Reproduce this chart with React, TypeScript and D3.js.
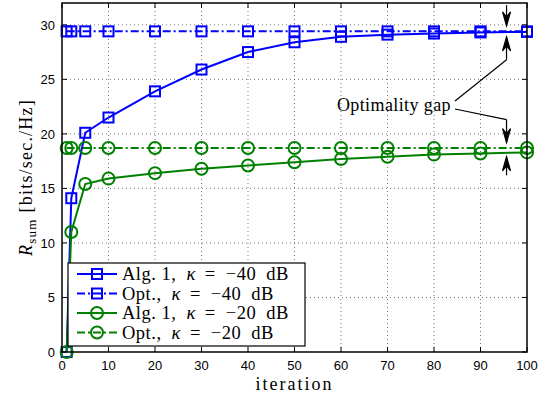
import { useRef, useEffect } from "react";
import * as d3 from "d3";

const W = 551;
const H = 398;
const margin = { top: 3, right: 24, bottom: 46, left: 62 };

const iterations = [1, 2, 5, 10, 20, 30, 40, 50, 60, 70, 80, 90, 100];
const alg40 = [0, 14.1, 20.1, 21.5, 23.9, 25.9, 27.5, 28.4, 28.9, 29.1, 29.2, 29.3, 29.35];
const opt40 = [29.4, 29.4, 29.4, 29.4, 29.4, 29.4, 29.4, 29.4, 29.4, 29.4, 29.4, 29.4, 29.4];
const alg20 = [0, 11.0, 15.4, 15.9, 16.4, 16.8, 17.1, 17.4, 17.7, 17.9, 18.1, 18.2, 18.3];
const opt20 = [18.7, 18.7, 18.7, 18.7, 18.7, 18.7, 18.7, 18.7, 18.7, 18.7, 18.7, 18.7, 18.7];
const xTicks = [0, 10, 20, 30, 40, 50, 60, 70, 80, 90, 100];
const yTicks = [0, 5, 10, 15, 20, 25, 30];

const series = [
  { name: "Alg. 1,", kappa: "−40", values: alg40, color: "#0000ff", marker: "square", dash: null },
  { name: "Opt.,", kappa: "−40", values: opt40, color: "#0000ff", marker: "square", dash: "8,3,2,3" },
  { name: "Alg. 1,", kappa: "−20", values: alg20, color: "#008000", marker: "circle", dash: null },
  { name: "Opt.,", kappa: "−20", values: opt20, color: "#008000", marker: "circle", dash: "8,3,2,3" },
];

const SERIF = "Liberation Serif";
const SANS = "Liberation Sans";

export default function App() {
  const svgRef = useRef<SVGSVGElement>(null);

  useEffect(() => {
    const svg = d3.select(svgRef.current);
    svg.selectAll("*").remove();

    const x = d3.scaleLinear().domain([0, 100]).range([margin.left, W - margin.right]);
    const y = d3.scaleLinear().domain([0, 32]).range([H - margin.bottom, margin.top]);
    const [x0, x1] = x.range();
    const [y0, y1] = y.range();

    svg.append("rect").attr("width", W).attr("height", H).attr("fill", "#fff");

    // grid
    const grid = svg.append("g").attr("stroke", "#555").attr("stroke-width", 0.8).attr("stroke-dasharray", "1,3");
    grid.selectAll(".gx").data(xTicks.slice(1, -1)).join("line")
      .attr("x1", (d) => x(d)).attr("x2", (d) => x(d)).attr("y1", y0).attr("y2", y1);
    grid.selectAll(".gy").data(yTicks.slice(1)).join("line")
      .attr("y1", (d) => y(d)).attr("y2", (d) => y(d)).attr("x1", x0).attr("x2", x1);

    // inward ticks on all sides
    const ticks = svg.append("g").attr("stroke", "#000").attr("stroke-width", 1);
    xTicks.forEach((t) => {
      ticks.append("line").attr("x1", x(t)).attr("x2", x(t)).attr("y1", y0).attr("y2", y0 - 5);
      ticks.append("line").attr("x1", x(t)).attr("x2", x(t)).attr("y1", y1).attr("y2", y1 + 5);
    });
    yTicks.forEach((t) => {
      ticks.append("line").attr("y1", y(t)).attr("y2", y(t)).attr("x1", x0).attr("x2", x0 + 5);
      ticks.append("line").attr("y1", y(t)).attr("y2", y(t)).attr("x1", x1).attr("x2", x1 - 5);
    });

    // tick labels
    svg.append("g").selectAll("text").data(xTicks).join("text")
      .attr("x", (d) => x(d)).attr("y", y0 + 18)
      .attr("text-anchor", "middle").attr("font-family", SANS).attr("font-size", 13)
      .text((d) => d);
    svg.append("g").selectAll("text").data(yTicks).join("text")
      .attr("x", x0 - 7).attr("y", (d) => y(d) + 5)
      .attr("text-anchor", "end").attr("font-family", SANS).attr("font-size", 13)
      .text((d) => d);

    // lines and markers
    const line = d3.line<number>().x((_, i) => x(iterations[i])).y((d) => y(d));
    const drawMarker = (g, color, marker, cx, cy) => {
      if (marker === "square") {
        g.append("rect").attr("x", cx - 5).attr("y", cy - 5).attr("width", 10).attr("height", 10)
          .attr("fill", "none").attr("stroke", color).attr("stroke-width", 2);
      } else {
        g.append("circle").attr("cx", cx).attr("cy", cy).attr("r", 6)
          .attr("fill", "none").attr("stroke", color).attr("stroke-width", 2);
      }
    };
    const plot = svg.append("g");
    series.forEach((s) => {
      plot.append("path").datum(s.values).attr("d", line)
        .attr("fill", "none").attr("stroke", s.color).attr("stroke-width", 2)
        .attr("stroke-dasharray", s.dash);
      s.values.forEach((v, i) => drawMarker(plot, s.color, s.marker, x(iterations[i]), y(v)));
    });

    // frame
    svg.append("rect").attr("x", x0).attr("y", y1).attr("width", x1 - x0).attr("height", y0 - y1)
      .attr("fill", "none").attr("stroke", "#000").attr("stroke-width", 1.5);

    // legend
    const lg = svg.append("g");
    lg.append("rect").attr("x", 68).attr("y", 263).attr("width", 237).attr("height", 83)
      .attr("fill", "#fff").attr("stroke", "#000").attr("stroke-width", 1.2);
    series.forEach((s, i) => {
      const ly = 274 + i * 19.5;
      lg.append("line").attr("x1", 77).attr("x2", 117).attr("y1", ly).attr("y2", ly)
        .attr("stroke", s.color).attr("stroke-width", 2).attr("stroke-dasharray", s.dash);
      drawMarker(lg, s.color, s.marker, 97, ly);
      const t = lg.append("text").attr("x", 122).attr("y", ly + 6)
        .attr("font-family", SERIF).attr("font-size", 18.5).attr("letter-spacing", 0.5);
      t.append("tspan").text(s.name);
      t.append("tspan").attr("dx", 10).attr("font-style", "italic").text("κ");
      t.append("tspan").attr("dx", 9).text("=");
      t.append("tspan").attr("dx", 10).text(s.kappa);
      t.append("tspan").attr("dx", 10).text("dB");
    });

    // annotation
    const ax = x(95.6);
    const ann = svg.append("g").attr("stroke", "#000").attr("stroke-width", 1.2);
    const arrow = (xx, yFrom, yTip) => {
      ann.append("line").attr("x1", xx).attr("x2", xx).attr("y1", yFrom).attr("y2", yTip);
      const dir = yTip > yFrom ? 1 : -1;
      ann.append("path")
        .attr("d", `M${xx},${yTip} L${xx - 4},${yTip - dir * 14} L${xx},${yTip - dir * 9} L${xx + 4},${yTip - dir * 14} Z`)
        .attr("fill", "#000");
    };
    arrow(ax, y(31.8), y(29.9));
    arrow(ax, y(26.8), y(28.9));
    arrow(ax, y(21.3), y(19.2));
    arrow(ax, y(16.2), y(17.9));
    ann.append("line").attr("x1", 455).attr("y1", 101).attr("x2", ax).attr("y2", y(26.8));
    ann.append("line").attr("x1", 455).attr("y1", 109).attr("x2", ax).attr("y2", y(21.3));
    svg.append("text").attr("x", 451).attr("y", 111).attr("text-anchor", "end")
      .attr("font-family", SERIF).attr("font-size", 18).attr("letter-spacing", 0.4).text("Optimality gap");

    // axis labels
    svg.append("text").attr("x", (x0 + x1) / 2).attr("y", 390).attr("text-anchor", "middle")
      .attr("font-family", SERIF).attr("font-size", 18).attr("letter-spacing", 2).text("iteration");
    const yl = svg.append("text")
      .attr("transform", `translate(32,${(y0 + y1) / 2}) rotate(-90)`)
      .attr("text-anchor", "middle").attr("font-family", SERIF).attr("font-size", 18)
      .attr("letter-spacing", 1.2);
    yl.append("tspan").attr("font-style", "italic").text("R");
    yl.append("tspan").attr("dy", 4).attr("font-size", 13).text("sum");
    yl.append("tspan").attr("dy", -4).attr("dx", 6).text("[bits/sec./Hz]");
  }, []);

  return (
    <svg ref={svgRef} width={W} height={H} style={{ position: "absolute", left: 0, top: 0 }} />
  );
}
